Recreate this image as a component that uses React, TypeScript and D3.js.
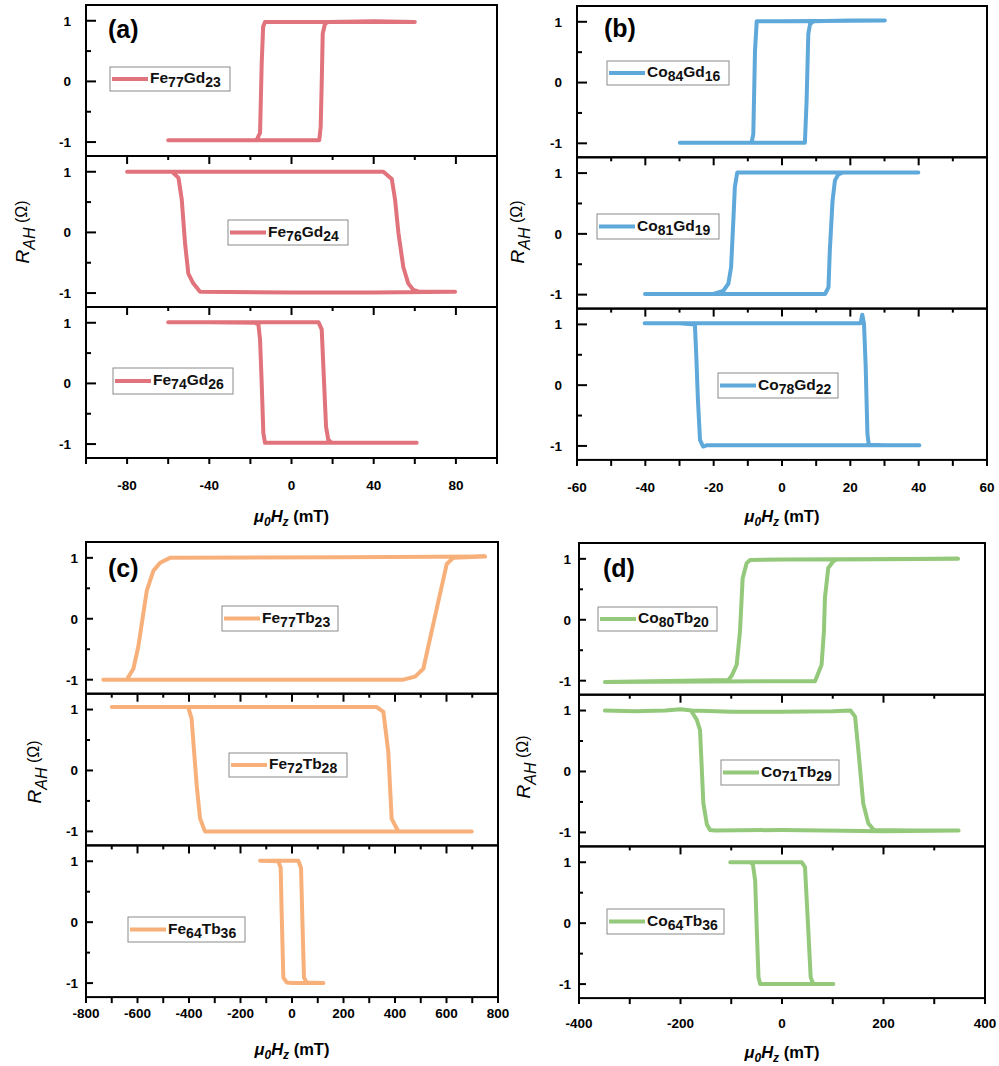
import React from 'react';
import * as d3 from 'd3';

// ---------------- data (H in mT, R_AH in Ω) ----------------
const FE77GD23_H = [-60, -30, 0, 13.5, 14.2, 14.7, 15.2, 16.3, 17.9, 40, 60, 40, 0, -12.9, -13.8, -14.5, -15.3, -17, -30, -60];
const FE77GD23_R = [-0.97, -0.97, -0.97, -0.97, -0.75, -0.03, 0.79, 0.95, 0.98, 0.99, 0.98, 0.98, 0.98, 0.98, 0.9, 0.3, -0.85, -0.97, -0.97, -0.97];

const FE76GD24_H = [-80, -40, 0, 44.7, 48.8, 50.4, 52.0, 54.4, 56.8, 59.3, 62.5, 79.6, 40, 0, -44.5, -47.8, -50.2, -51.8, -53.4, -55.0, -58.1, -80];
const FE76GD24_R = [1.0, 1.0, 1.0, 1.0, 0.88, 0.54, 0, -0.57, -0.84, -0.95, -0.98, -0.98, -0.99, -0.99, -0.98, -0.84, -0.68, -0.18, 0.54, 0.9, 1.0, 1.0];

const FE74GD26_H = [-60, -20, 13.1, 14.7, 15.5, 16.8, 17.9, 19.6, 40, 60.9, 20, -12.9, -13.7, -14.5, -15.3, -16.1, -17.8, -40, -60];
const FE74GD26_R = [1.01, 1.01, 1.01, 0.89, 0.28, -0.71, -0.93, -0.98, -0.98, -0.98, -0.98, -0.98, -0.82, 0, 0.72, 0.97, 1.0, 1.01, 1.01];

const CO84GD16_H = [-29.9, 0, 6.7, 7.2, 7.7, 8.2, 9.2, 20, 30.1, 0, -7.4, -7.9, -8.4, -8.9, -20, -29.9];
const CO84GD16_R = [-0.99, -0.99, -0.99, -0.3, 0.8, 0.96, 1.01, 1.02, 1.02, 1.01, 1.01, 0.52, -0.85, -0.99, -0.99, -0.99];

const CO81GD19_H = [-40.1, 0, 12.6, 13.6, 14.0, 14.8, 15.5, 16.5, 17.9, 30, 39.9, 0, -13.1, -13.8, -14.2, -14.9, -15.7, -17.2, -20.1, -30, -40.1];
const CO81GD19_R = [-0.99, -0.99, -0.99, -0.88, -0.27, 0.55, 0.88, 0.98, 1.01, 1.01, 1.01, 1.01, 1.01, 0.77, 0.27, -0.55, -0.82, -0.94, -0.99, -0.99, -0.99];

const CO78GD22_H = [-40.2, 0, 23.0, 23.5, 24.0, 24.5, 25.0, 25.4, 30, 40.2, 0, -22.1, -23.1, -24.0, -24.6, -25.1, -25.5, -30, -40.2];
const CO78GD22_R = [1.02, 1.02, 1.02, 1.16, 1.01, 0.3, -0.8, -0.98, -0.99, -0.99, -0.99, -0.99, -1.01, -0.9, -0.25, 0.5, 1.0, 1.02, 1.02];

const FE77TB23_H = [-733, -200, 432, 478, 510, 549, 601, 626, 750, 200, -474, -512, -538, -564, -597, -616, -642, -733];
const FE77TB23_R = [-1, -1, -1, -0.95, -0.82, -0.08, 0.9, 1.0, 1.02, 1.01, 1.0, 0.92, 0.79, 0.46, -0.46, -0.82, -1.0, -1];

const FE72TB28_H = [-700, 0, 329, 355, 374, 387, 400, 413, 698, 0, -338, -357, -370, -390, -403, -700];
const FE72TB28_R = [1.04, 1.04, 1.04, 0.96, 0.30, -0.79, -0.90, -1.0, -1.0, -1.0, -1.0, -0.79, -0.25, 0.85, 1.04, 1.04];

const FE64TB36_H = [-124, 0, 24.6, 35, 41.5, 46.6, 57, 121.6, 0, -20.6, -33.6, -40, -44, -53, -124];
const FE64TB36_R = [1.01, 1.01, 1.01, 0.89, -0.15, -0.91, -0.99, -1.0, -1.0, -0.99, -0.91, 0.13, 0.89, 1.0, 1.01];

const CO80TB20_H = [-349, 0, 65, 78, 82.6, 84.6, 91.1, 101, 107.5, 347, 0, -63, -69.6, -77.5, -82.8, -89.3, -99.2, -105.8, -349];
const CO80TB20_R = [-1.02, -1.01, -1.01, -0.74, -0.19, 0.36, 0.85, 0.96, 0.99, 1.0, 0.99, 0.98, 0.93, 0.68, -0.19, -0.74, -0.92, -0.99, -1.02];

const CO71TB29_H = [-349, -290, -230, -200, -178, -100, 0, 100, 135, 144, 151, 160, 170, 181, 260, 348, 200, 0, -132, -141.8, -148, -155, -161.5, -168, -178];
const CO71TB29_R = [1.0, 0.99, 1.0, 1.02, 1.0, 0.98, 0.98, 0.99, 1.0, 0.9, 0.3, -0.52, -0.85, -0.96, -0.97, -0.97, -0.98, -0.96, -0.97, -0.96, -0.87, -0.52, 0.68, 0.85, 0.98];

const CO64TB36_H = [-102, 0, 38.8, 45.3, 51.9, 56.5, 61.7, 101, 0, -43, -46.3, -49.6, -52.9, -57.5, -62.7, -102];
const CO64TB36_R = [1.0, 1.0, 1.0, 0.92, -0.13, -0.89, -1.0, -1.0, -1.0, -1.0, -0.89, -0.13, 0.7, 0.97, 1.0, 1.0];

const Y_MAJOR = [-1, 0, 1];
const Y_MINOR = [-0.5, 0.5];
const Y_DOMAIN = [-1.23, 1.26];

const FONT = "'Liberation Sans', Arial, sans-serif";

// ---------------- layout ----------------
type Sub = { name: string[]; H: number[]; R: number[]; leg: [number, number, number, number] };
type Panel = {
  label: string; lx: number; ly: number;
  left: number; right: number; top: number; h: number;
  xDomain: [number, number]; xStep: number; xLabelStep: number;
  color: string; tMaj: number; tMin: number; yGap: number; xLabDy: number; xTitleY: number;
  yTitle: [number, number];
  subs: Sub[];
};

const PANELS: Panel[] = [
  {
    label: '(a)', lx: 108, ly: 38, left: 86, right: 497, top: 5, h: 151,
    xDomain: [-100, 100], xStep: 20, xLabelStep: 40, color: '#e1737c',
    tMaj: 10, tMin: 5, yGap: 15, xLabDy: 32, xTitleY: 522, yTitle: [29, 232],
    subs: [
      { name: ['Fe', '77', 'Gd', '23'], H: FE77GD23_H, R: FE77GD23_R, leg: [110, 67, 120, 24] },
      { name: ['Fe', '76', 'Gd', '24'], H: FE76GD24_H, R: FE76GD24_R, leg: [228, 220, 120, 25] },
      { name: ['Fe', '74', 'Gd', '26'], H: FE74GD26_H, R: FE74GD26_R, leg: [113, 368, 120, 26] },
    ],
  },
  {
    label: '(b)', lx: 604, ly: 37, left: 577, right: 987, top: 6, h: 151.3,
    xDomain: [-60, 60], xStep: 10, xLabelStep: 20, color: '#5ea8da',
    tMaj: 10, tMin: 5, yGap: 15, xLabDy: 32, xTitleY: 522, yTitle: [524, 232],
    subs: [
      { name: ['Co', '84', 'Gd', '16'], H: CO84GD16_H, R: CO84GD16_R, leg: [607, 61, 122, 24] },
      { name: ['Co', '81', 'Gd', '19'], H: CO81GD19_H, R: CO81GD19_R, leg: [597, 214, 122, 25] },
      { name: ['Co', '78', 'Gd', '22'], H: CO78GD22_H, R: CO78GD22_R, leg: [718, 373, 120, 25] },
    ],
  },
  {
    label: '(c)', lx: 108, ly: 577, left: 86, right: 498, top: 542, h: 151.7,
    xDomain: [-800, 800], xStep: 100, xLabelStep: 200, color: '#f8b07b',
    tMaj: 7, tMin: 4, yGap: 8, xLabDy: 21, xTitleY: 1055, yTitle: [41, 772],
    subs: [
      { name: ['Fe', '77', 'Tb', '23'], H: FE77TB23_H, R: FE77TB23_R, leg: [222, 606, 116, 25] },
      { name: ['Fe', '72', 'Tb', '28'], H: FE72TB28_H, R: FE72TB28_R, leg: [229, 753, 118, 24] },
      { name: ['Fe', '64', 'Tb', '36'], H: FE64TB36_H, R: FE64TB36_R, leg: [128, 917, 117, 25] },
    ],
  },
  {
    label: '(d)', lx: 603, ly: 577, left: 579, right: 985, top: 543, h: 151.7,
    xDomain: [-400, 400], xStep: 100, xLabelStep: 200, color: '#94c97b',
    tMaj: 7, tMin: 4, yGap: 8, xLabDy: 30, xTitleY: 1058, yTitle: [530, 767],
    subs: [
      { name: ['Co', '80', 'Tb', '20'], H: CO80TB20_H, R: CO80TB20_R, leg: [598, 607, 119, 24] },
      { name: ['Co', '71', 'Tb', '29'], H: CO71TB29_H, R: CO71TB29_R, leg: [721, 760, 118, 25] },
      { name: ['Co', '64', 'Tb', '36'], H: CO64TB36_H, R: CO64TB36_R, leg: [607, 909, 117, 25] },
    ],
  },
];

function PanelView({ p }: { p: Panel }) {
  const x = d3.scaleLinear().domain(p.xDomain).range([p.left, p.right]);
  const xTicks = d3.range(p.xDomain[0], p.xDomain[1] + p.xStep / 2, p.xStep);
  const isMajor = (v: number) => Math.abs(Math.round(v / p.xLabelStep) * p.xLabelStep - v) < 1e-6;
  const bottom = p.top + 3 * p.h;
  return (
    <g>
      {p.subs.map((s, i) => {
        const t = p.top + i * p.h;
        const y = d3.scaleLinear().domain(Y_DOMAIN).range([t + p.h, t]);
        const pts = s.H.map((hv, k) => [hv, s.R[k]] as [number, number]);
        const line = d3.line<[number, number]>().x((d) => x(d[0])).y((d) => y(d[1]));
        const [lx, ly, lw, lh] = s.leg;
        return (
          <g key={i}>
            <path d={line(pts) || ''} fill="none" stroke={p.color} strokeWidth={4}
              strokeLinejoin="round" strokeLinecap="round" />
            {Y_MAJOR.map((v) => (
              <g key={'ym' + v}>
                <line x1={p.left} x2={p.left + p.tMaj} y1={y(v)} y2={y(v)} stroke="#000" strokeWidth={2} />
                <text x={p.left - p.yGap} y={y(v)} dy="0.36em" textAnchor="end"
                  fontFamily={FONT} fontWeight="bold" fontSize={13.5}>{String(v)}</text>
              </g>
            ))}
            {Y_MINOR.map((v) => (
              <line key={'yn' + v} x1={p.left} x2={p.left + p.tMin} y1={y(v)} y2={y(v)} stroke="#000" strokeWidth={2} />
            ))}
            {i > 0 && xTicks.map((v) => (
              <line key={'tt' + v} x1={x(v)} x2={x(v)} y1={t} y2={t + (isMajor(v) ? 8 : 4)} stroke="#000" strokeWidth={2} />
            ))}
            <rect x={p.left} y={t} width={p.right - p.left} height={p.h} fill="none" stroke="#000" strokeWidth={2} />
            <rect x={lx} y={ly} width={lw} height={lh} fill="#fff" stroke="#8a8a8a" strokeWidth={1} />
            <line x1={lx + 2} x2={lx + 38} y1={ly + lh / 2} y2={ly + lh / 2} stroke={p.color} strokeWidth={4} />
            <text x={lx + 40} y={ly + lh / 2 + 4} fontFamily={FONT} fontWeight="bold" fontSize={15.5} fill="#111">
              <tspan>{s.name[0]}</tspan>
              <tspan fontSize={14} dy={4}>{s.name[1]}</tspan>
              <tspan dy={-4}>{s.name[2]}</tspan>
              <tspan fontSize={14} dy={4}>{s.name[3]}</tspan>
            </text>
          </g>
        );
      })}
      {xTicks.map((v) => (
        <g key={'bx' + v}>
          <line x1={x(v)} x2={x(v)} y1={bottom} y2={bottom + 6} stroke="#000" strokeWidth={2} />
          {isMajor(v) && (
            <text x={x(v)} y={bottom + p.xLabDy} textAnchor="middle" fontFamily={FONT}
              fontWeight="bold" fontSize={13.5}>{String(v)}</text>
          )}
        </g>
      ))}
      <text x={p.lx} y={p.ly} fontFamily={FONT} fontWeight="bold" fontSize={25}>{p.label}</text>
      <text x={(p.left + p.right) / 2} y={p.xTitleY} textAnchor="middle" fontFamily={FONT} fontWeight="bold" fontSize={16.5}>
        <tspan fontStyle="italic">μ</tspan>
        <tspan fontStyle="italic" fontSize={12} dy={4}>0</tspan>
        <tspan fontStyle="italic" dy={-4}>H</tspan>
        <tspan fontStyle="italic" fontSize={12} dy={4}>z</tspan>
        <tspan dy={-4}> (mT)</tspan>
      </text>
      <text transform={`translate(${p.yTitle[0]},${p.yTitle[1]}) rotate(-90)`} textAnchor="middle"
        fontFamily={FONT} fontSize={19}>
        <tspan fontStyle="italic">R</tspan>
        <tspan fontStyle="italic" fontSize={16} dy={6}>AH</tspan>
        <tspan fontSize={16} dy={-8}> (Ω)</tspan>
      </text>
    </g>
  );
}

export default function App() {
  return (
    <svg width={999} height={1066} viewBox="0 0 999 1066"
      style={{ position: 'absolute', left: 0, top: 0, background: '#fff' }}>
      <rect x={0} y={0} width={999} height={1066} fill="#fff" />
      {PANELS.map((p) => <PanelView key={p.label} p={p} />)}
    </svg>
  );
}
